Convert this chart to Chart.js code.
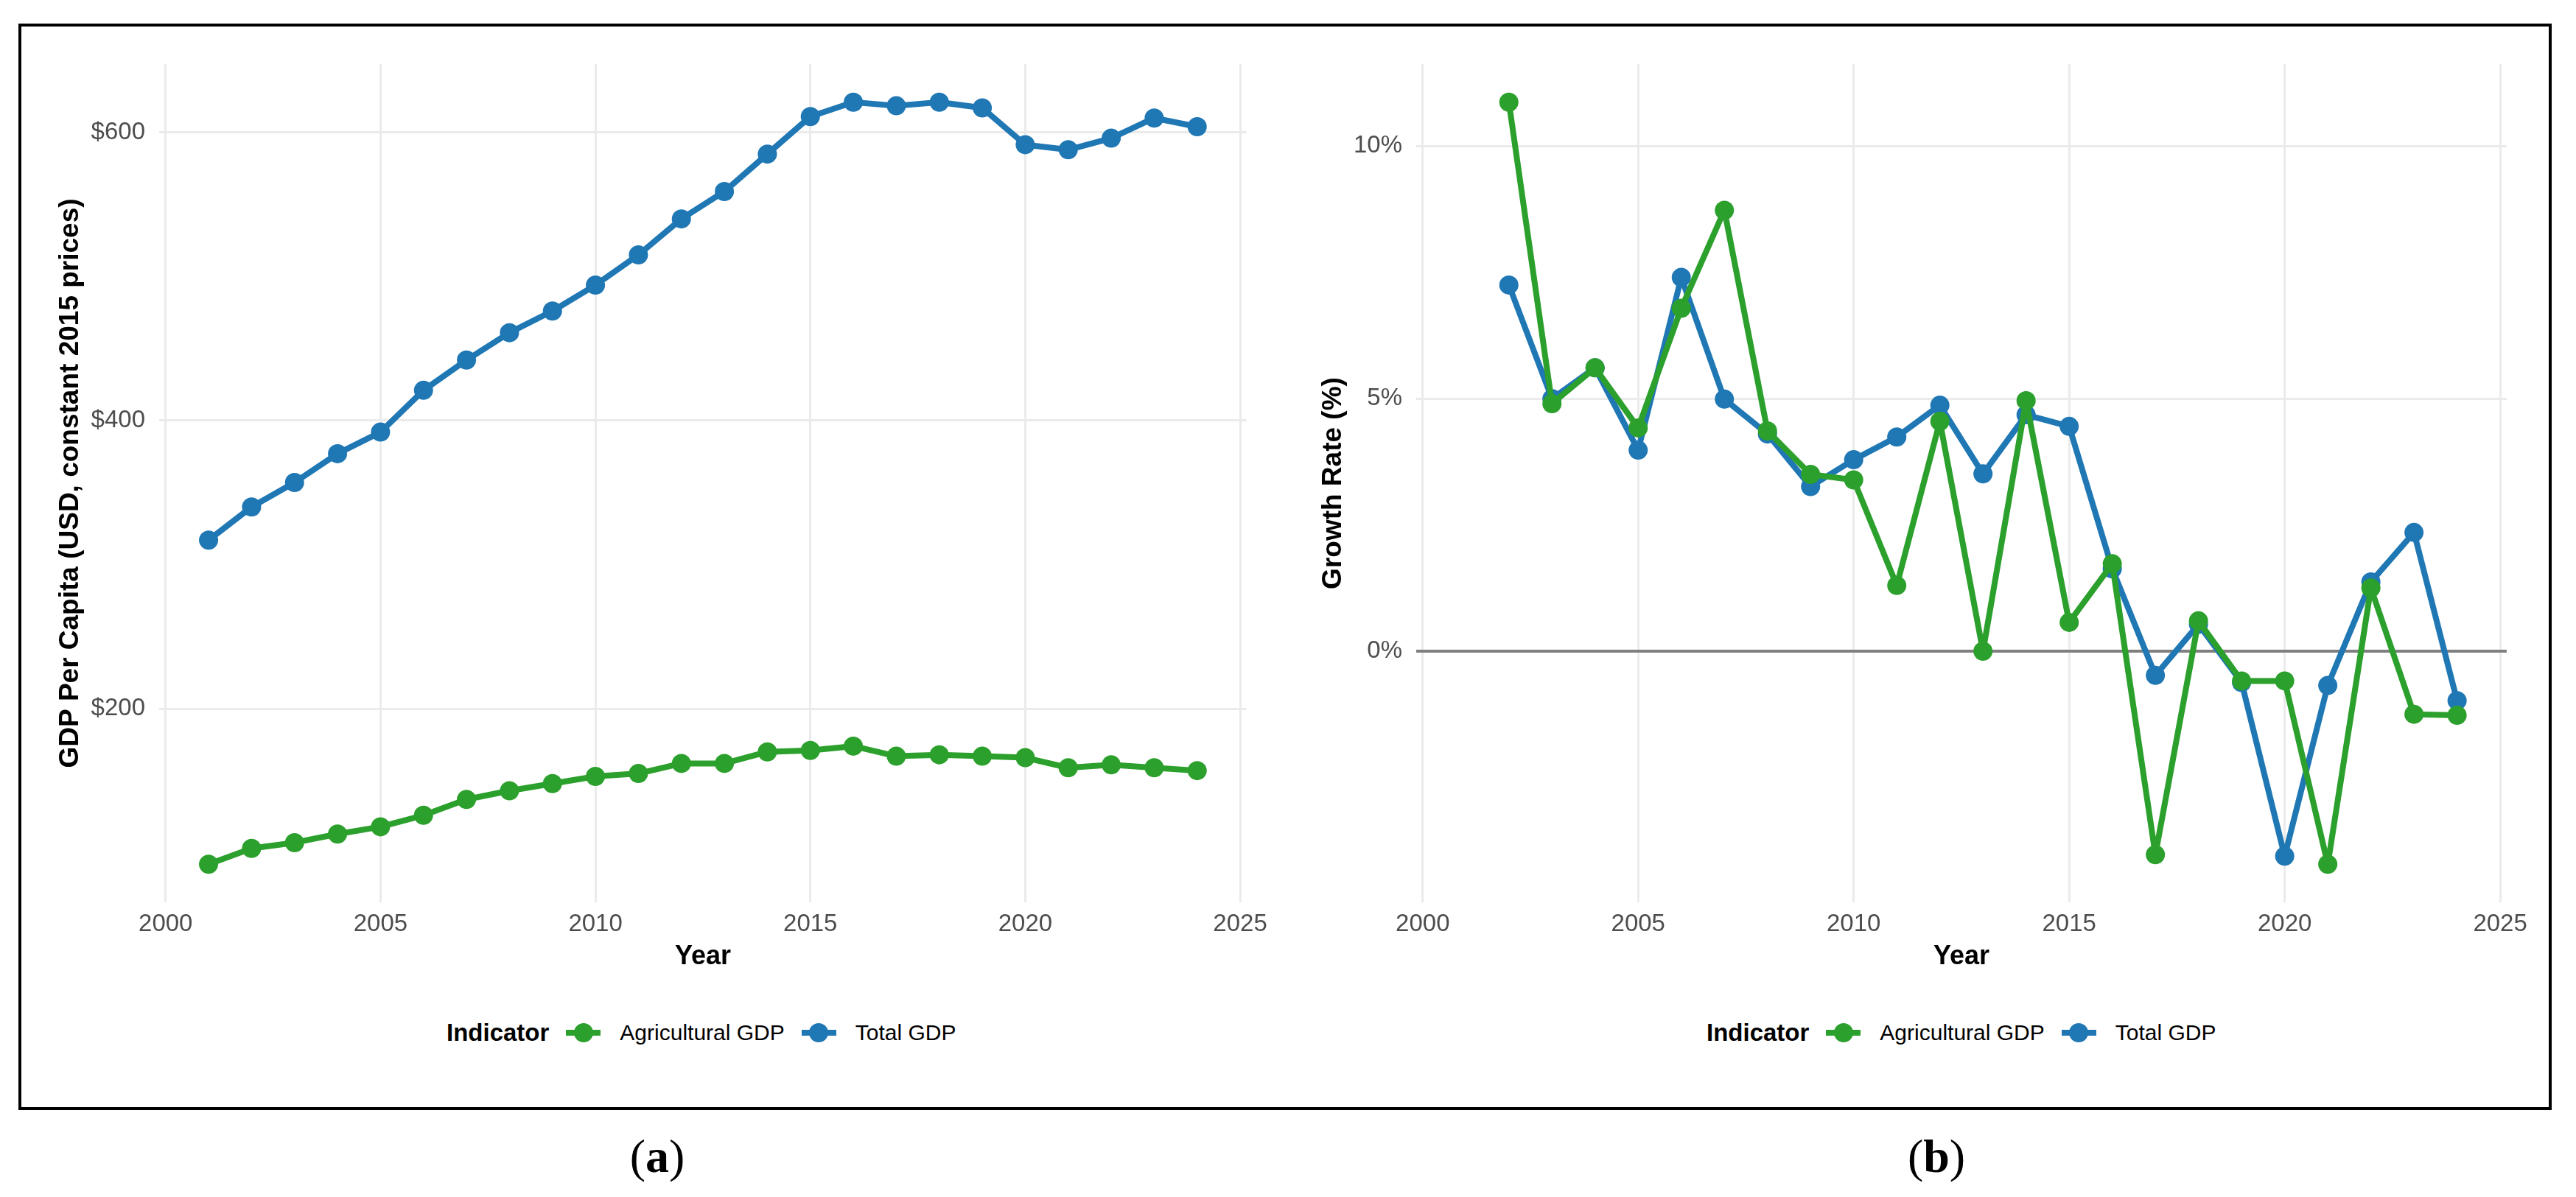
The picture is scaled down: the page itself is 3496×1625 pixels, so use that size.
<!DOCTYPE html>
<html><head><meta charset="utf-8">
<script src="https://cdn.jsdelivr.net/npm/chart.js@4.4.1/dist/chart.umd.min.js"></script>
<style>
html,body{margin:0;padding:0;background:#fff;}
body{width:3496px;height:1625px;position:relative;overflow:hidden;font-family:'Liberation Sans',Arial,sans-serif;}
#frame{position:absolute;left:25px;top:32px;width:3438px;height:1475px;border:4.5px solid #000;box-sizing:border-box;}
canvas{position:absolute;}
#cA{left:30px;top:40px;}
#cB{left:1740px;top:40px;}
.legend{position:absolute;top:1382px;height:40px;display:flex;align-items:center;white-space:nowrap;color:#000;}
.legend .ttl{font-weight:bold;font-size:33px;margin-right:23px;}
.legend .key{position:relative;width:47px;height:40px;margin-right:26px;}
.legend .key .ln{position:absolute;left:0;right:0;top:16px;height:8px;}
.legend .key .pt{position:absolute;left:10.5px;top:7px;width:26px;height:26px;border-radius:50%;}
.legend .lab{font-size:30px;margin-right:23px;}
.cap{position:absolute;font-family:'Liberation Serif','Times New Roman',serif;font-size:64px;line-height:64px;top:1538px;transform:translateX(-50%);color:#000;}
</style></head>
<body>
<div id="frame"></div>
<canvas id="cA" width="1700" height="1300"></canvas>
<canvas id="cB" width="1700" height="1300"></canvas>
<div class="legend" id="legA" style="left:606px"></div>
<div class="legend" id="legB" style="left:2316px"></div>
<div class="cap" style="left:892px">(<b>a</b>)</div>
<div class="cap" style="left:2628px">(<b>b</b>)</div>
<script>
// ---- data ----
const years = [2001,2002,2003,2004,2005,2006,2007,2008,2009,2010,2011,2012,2013,2014,2015,2016,2017,2018,2019,2020,2021,2022,2023,2024];
const totalGdpPerCapita = [317,340,357,377,392,421,442,461,476,494,515,540,559,585,611,621,618.5,621,617,591.5,588,596,610,604];
const agriGdpPerCapita  = [92,103,107,113,118,126,137,143,148,153,155,162,162,170,171,174,167,168,167,166,159,161,159,157];
const growthYears = [2002,2003,2004,2005,2006,2007,2008,2009,2010,2011,2012,2013,2014,2015,2016,2017,2018,2019,2020,2021,2022,2023,2024];
const totalGrowth = [7.25,5.0,5.61,3.98,7.40,4.99,4.30,3.26,3.79,4.24,4.87,3.51,4.68,4.45,1.63,-0.48,0.53,-0.62,-4.06,-0.68,1.37,2.35,-0.98];
const agriGrowth  = [10.87,4.90,5.61,4.42,6.79,8.73,4.36,3.50,3.39,1.30,4.55,0.0,4.96,0.57,1.73,-4.03,0.60,-0.59,-0.59,-4.22,1.25,-1.25,-1.27];
const yearTicks = [2000,2005,2010,2015,2020,2025];
const levelTicks = [200,400,600];
const growthTicks = [0,5,10];
const seriesNames = ['Agricultural GDP','Total GDP'];
const seriesColors = ['#2ca02c','#1f77b4'];

// ---- helpers ----
const FONT = "'Liberation Sans', Arial, sans-serif";
Chart.defaults.font.family = FONT;
function expand(arrs){
  const all = [].concat(...arrs);
  const mn = Math.min(...all), mx = Math.max(...all), r = mx - mn;
  return [mn - 0.05*r, mx + 0.05*r];
}
const xRange = expand([years]);
function pts(xs, ys){ return xs.map((x,i)=>({x:x, y:ys[i]})); }
function ds(label, color, data){
  return {label, data, borderColor:color, backgroundColor:color, borderWidth:8,
    borderJoinStyle:'round', pointRadius:13, pointHoverRadius:13, pointBackgroundColor:color,
    pointBorderColor:color, pointBorderWidth:0, tension:0, fill:false};
}
function makeChart(id, datasets, yTicks, fmt, yTitle, yRange, yW, padR, yTitlePad, zero){
  return new Chart(document.getElementById(id), {
    type:'line',
    data:{datasets},
    options:{
      responsive:false, animation:false, devicePixelRatio:1,
      layout:{padding:{left:0, top:47, right:padR, bottom:0}},
      plugins:{legend:{display:false}, tooltip:{enabled:false}},
      scales:{
        x:{type:'linear', min:xRange[0], max:xRange[1],
           afterBuildTicks:a=>{a.ticks = yearTicks.map(v=>({value:v}));},
           afterFit:s=>{s.height = 115;},
           grid:{color:'#EBEBEB', lineWidth:3, drawTicks:false, z:-2},
           border:{display:false},
           ticks:{color:'#4D4D4D', font:{size:33}, padding:10, maxRotation:0, autoSkip:false, callback:v=>String(v)},
           title:{display:true, text:'Year', color:'#000', font:{size:36, weight:'bold'}, padding:{top:0,bottom:19}}
        },
        y:{type:'linear', min:yRange[0], max:yRange[1],
           afterBuildTicks:a=>{a.ticks = yTicks.map(v=>({value:v}));},
           afterFit:s=>{s.width = yW;},
           grid:{color:c=>(zero && c.tick && c.tick.value===0)?'#7F7F7F':'#EBEBEB',
                 lineWidth:c=>(zero && c.tick && c.tick.value===0)?4:3, drawTicks:false, z:-1},
           border:{display:false},
           ticks:{color:'#4D4D4D', font:{size:33}, padding:19, autoSkip:false, callback:fmt},
           title:{display:true, text:yTitle, color:'#000', font:{size:37, weight:'bold'}, padding:{top:yTitlePad,bottom:0}}
        }
      }
    }
  });
}

// Panel (a)
makeChart('cA',
  [ds(seriesNames[0], seriesColors[0], pts(years, agriGdpPerCapita)),
   ds(seriesNames[1], seriesColors[1], pts(years, totalGdpPerCapita))],
  levelTicks, v=>'$'+v, 'GDP Per Capita (USD, constant 2015 prices)',
  expand([agriGdpPerCapita, totalGdpPerCapita]), 186, 36, 44, false);

// Panel (b)
makeChart('cB',
  [ds(seriesNames[0], seriesColors[0], pts(growthYears, agriGrowth)),
   ds(seriesNames[1], seriesColors[1], pts(growthYears, totalGrowth))],
  growthTicks, v=>v+'%', 'Growth Rate (%)',
  expand([agriGrowth, totalGrowth]), 182, 32, 48, true);

// Legends
function buildLegend(id){
  const el = document.getElementById(id);
  let h = '<span class="ttl">Indicator</span>';
  seriesNames.forEach((n,i)=>{
    h += '<span class="key"><span class="ln" style="background:'+seriesColors[i]+'"></span><span class="pt" style="background:'+seriesColors[i]+'"></span></span>';
    h += '<span class="lab">'+n+'</span>';
  });
  el.innerHTML = h;
}
buildLegend('legA'); buildLegend('legB');
</script>
</body></html>
